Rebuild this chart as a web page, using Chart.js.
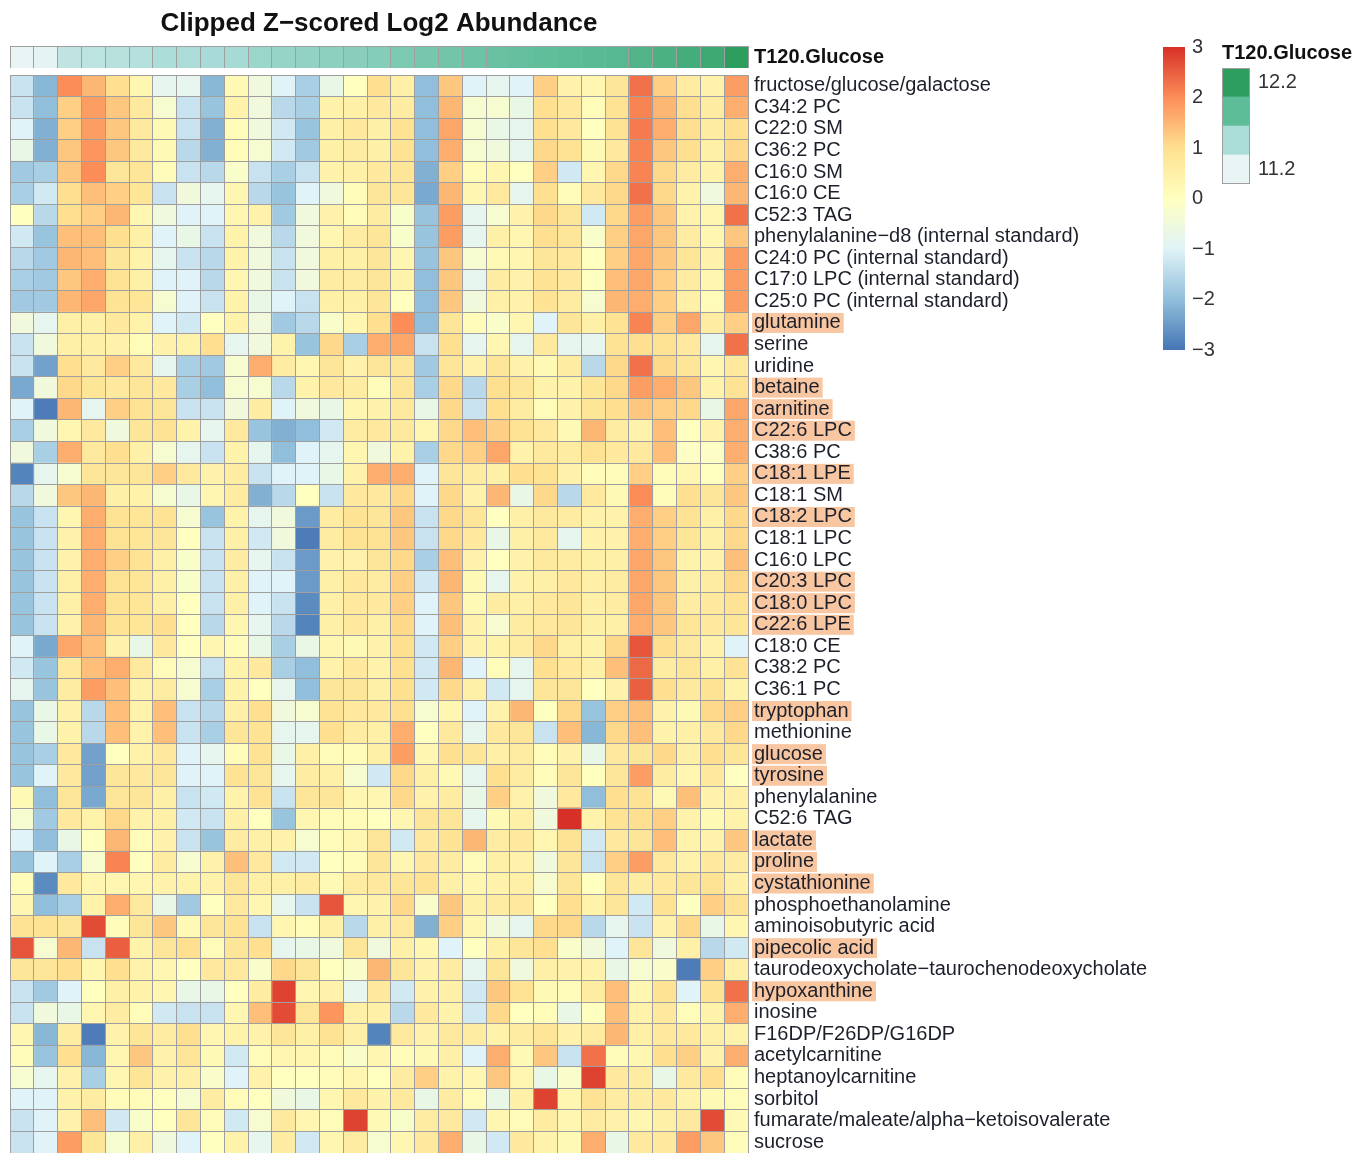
<!DOCTYPE html>
<html>
<head>
<meta charset="utf-8">
<title>Clipped Z-scored Log2 Abundance</title>
<script src="https://cdn.jsdelivr.net/npm/chart.js@4.4.1/dist/chart.umd.min.js"></script>
<style>
  html, body { margin: 0; padding: 0; background: #ffffff; }
  body { width: 1372px; height: 1153px; position: relative; overflow: hidden; }
  canvas { position: absolute; }
</style>
</head>
<body>
<canvas id="heat" style="left:10px;top:0" width="1155" height="1153"></canvas>
<canvas id="anno" style="left:10px;top:0" width="990" height="68"></canvas>
<canvas id="zbar" style="left:1150px;top:0" width="100" height="400"></canvas>
<canvas id="glu" style="left:1205px;top:30px" width="167" height="160"></canvas>
<script>
// ---------------------------------------------------------------------------
// Data
// ---------------------------------------------------------------------------
const chartTitle = 'Clipped Z\u2212scored Log2 Abundance';
const annotationName = 'T120.Glucose';

// T120 glucose per sample (columns, left to right)
const glucoseT120 = [11.20, 11.22, 11.42, 11.44, 11.46, 11.48, 11.52, 11.53, 11.54, 11.55,
                     11.60, 11.62, 11.64, 11.66, 11.68, 11.70, 11.74, 11.76, 11.78, 11.80,
                     11.82, 11.84, 11.86, 11.88, 11.90, 11.92, 11.96, 12.00, 12.04, 12.08, 12.20];

// Glucose legend key (top to bottom) and its labels
const glucoseKeyValues = [12.2, 11.867, 11.533, 11.2];
const glucoseKeyLabels = ['12.2', '', '', '11.2'];

// Z-score legend range
const zMin = -3, zMax = 3;

// Metabolites (rows, top to bottom)
const metabolites = [
  'fructose/glucose/galactose', 'C34:2 PC', 'C22:0 SM', 'C36:2 PC', 'C16:0 SM', 'C16:0 CE',
  'C52:3 TAG', 'phenylalanine\u2212d8 (internal standard)', 'C24:0 PC (internal standard)',
  'C17:0 LPC (internal standard)', 'C25:0 PC (internal standard)', 'glutamine', 'serine',
  'uridine', 'betaine', 'carnitine', 'C22:6 LPC', 'C38:6 PC', 'C18:1 LPE', 'C18:1 SM',
  'C18:2 LPC', 'C18:1 LPC', 'C16:0 LPC', 'C20:3 LPC', 'C18:0 LPC', 'C22:6 LPE', 'C18:0 CE',
  'C38:2 PC', 'C36:1 PC', 'tryptophan', 'methionine', 'glucose', 'tyrosine', 'phenylalanine',
  'C52:6 TAG', 'lactate', 'proline', 'cystathionine', 'phosphoethanolamine',
  'aminoisobutyric acid', 'pipecolic acid', 'taurodeoxycholate\u2212taurochenodeoxycholate',
  'hypoxanthine', 'inosine', 'F16DP/F26DP/G16DP', 'acetylcarnitine', 'heptanoylcarnitine',
  'sorbitol', 'fumarate/maleate/alpha\u2212ketoisovalerate', 'sucrose'
];

// Metabolites marked in the label column
const highlighted = [
  'glutamine', 'betaine', 'carnitine', 'C22:6 LPC', 'C18:1 LPE', 'C18:2 LPC', 'C20:3 LPC',
  'C18:0 LPC', 'C22:6 LPE', 'tryptophan', 'glucose', 'tyrosine', 'lactate', 'proline',
  'cystathionine', 'pipecolic acid', 'hypoxanthine'
];

// Clipped z-scores, one row per metabolite, one value per sample column
const zscores = [
  [-1.3,-2.1,2.0,1.5,1.0,0.3,-0.8,-0.8,-2.1,0.2,-0.5,-1.0,-1.7,-0.7,0.0,1.0,0.5,-2.0,1.3,-1.0,-0.8,-1.0,1.2,0.4,0.3,0.8,2.3,1.2,0.6,0.4,1.8],
  [-1.3,-2.0,1.2,1.8,1.3,0.7,-0.3,-1.3,-1.9,0.4,-0.5,-1.5,-1.7,0.4,0.5,0.7,0.6,-2.0,1.5,-0.3,-0.3,-0.7,1.0,0.7,0.1,0.9,2.1,1.5,1.0,0.6,1.6],
  [-1.0,-2.2,1.2,1.8,1.3,0.7,0.2,-1.3,-2.2,0.1,-0.5,-1.2,-1.9,0.5,0.7,0.5,0.9,-2.0,1.7,-0.3,-0.7,-0.8,1.0,0.7,0.0,0.9,2.2,1.6,1.0,0.6,1.0],
  [-0.7,-2.2,1.3,1.9,1.3,0.7,0.2,-1.5,-2.2,0.1,-0.3,-1.2,-1.8,0.5,0.6,0.5,0.9,-2.0,1.6,-0.3,-0.5,-0.8,1.1,0.9,0.2,0.7,2.1,1.3,1.0,0.5,1.1],
  [-1.8,-1.7,1.3,2.0,0.8,0.8,0.1,-1.3,-1.5,-0.2,-1.3,-1.7,-1.3,0.4,0.5,0.7,0.8,-2.2,1.2,0.1,0.3,0.0,1.2,-1.2,0.3,1.1,2.1,1.1,0.6,0.4,1.6],
  [-1.7,-1.2,1.0,1.4,1.2,0.8,-1.3,-0.5,-0.8,0.3,-1.5,-1.9,-1.0,-0.5,0.1,0.8,0.8,-2.3,1.5,0.3,0.7,-0.8,1.0,0.1,0.7,1.1,2.3,1.1,0.4,-0.5,1.5],
  [0.0,-1.5,1.0,1.2,1.5,0.3,-0.5,-1.0,-1.0,0.3,0.4,-1.8,-0.5,0.4,0.1,0.6,-0.2,-1.9,1.8,-0.8,-0.3,0.4,1.1,0.8,-1.2,1.1,1.8,1.3,0.4,0.3,2.3],
  [-1.2,-1.9,1.4,1.4,1.0,0.5,-1.0,-0.7,-1.3,0.4,-0.5,-1.5,-0.5,0.3,0.6,0.8,-0.2,-1.9,1.8,-0.8,0.5,0.3,1.0,0.8,-0.2,1.2,1.7,1.3,0.6,0.3,1.3],
  [-1.5,-1.8,1.5,1.4,0.8,0.4,-0.8,-1.3,-1.5,0.4,-0.5,-1.3,-0.5,0.5,0.5,0.8,0.3,-1.9,1.3,-0.3,0.2,0.3,0.8,0.7,0.0,1.2,1.7,1.3,0.8,0.4,1.8],
  [-1.7,-1.8,1.3,1.6,0.9,0.5,-1.0,-1.0,-1.5,0.3,-0.5,-1.3,-0.5,0.6,0.6,0.8,0.4,-2.0,1.3,-0.8,0.6,0.4,0.9,0.7,0.0,1.4,1.7,1.2,0.6,0.3,1.8],
  [-1.8,-1.8,1.5,1.7,0.9,0.8,-0.3,-1.0,-1.3,0.4,-0.7,-1.0,-1.3,0.5,0.5,0.8,0.0,-2.0,1.3,-0.5,0.5,0.4,0.9,0.6,-0.3,1.5,1.6,1.2,0.5,0.1,1.8],
  [-0.5,-0.8,0.5,0.5,0.7,0.4,-1.0,-1.2,0.0,0.4,-0.5,-1.8,-1.5,-0.2,0.3,1.0,2.0,-2.0,0.8,0.1,-0.2,0.3,-1.0,0.8,0.5,0.9,2.1,1.2,1.7,0.6,1.2],
  [-1.3,-0.5,0.5,0.5,0.4,0.1,0.4,0.4,1.0,-0.8,-0.5,0.4,-1.9,1.1,-1.7,1.6,1.7,-1.3,1.0,-0.8,0.3,-0.8,0.7,-0.8,-0.8,0.9,1.0,0.9,0.7,-0.8,2.3],
  [-1.3,-2.4,1.0,0.7,1.2,0.7,-0.8,-1.7,-1.8,-0.3,1.6,0.6,0.3,0.8,0.4,0.8,0.8,-1.8,0.8,0.4,0.8,0.4,0.2,0.6,-1.5,1.1,2.3,1.1,0.8,0.3,0.7],
  [-2.3,-0.5,1.1,0.8,0.7,0.8,0.7,-1.7,-2.0,-0.3,-0.3,-1.5,0.4,0.7,0.6,0.1,0.8,-1.7,1.1,-1.5,1.0,0.8,0.4,0.4,0.8,1.1,1.8,1.6,1.3,0.4,0.9],
  [-1.0,-2.9,1.5,-0.8,1.2,0.9,0.8,-1.3,-1.3,-0.5,0.6,-1.0,-0.5,-0.7,0.3,0.4,0.7,-0.7,1.1,-1.3,1.0,0.6,0.1,0.4,0.8,1.0,1.3,1.2,1.1,-0.7,1.7],
  [-1.7,-0.5,0.3,0.7,-0.5,0.8,0.9,0.4,-0.8,0.7,-1.9,-2.2,-2.0,-1.2,0.6,0.7,0.7,0.3,1.1,1.4,1.2,0.9,0.7,0.2,1.5,0.6,0.4,1.4,0.0,0.4,1.6],
  [-0.5,-1.7,1.6,0.7,1.0,0.5,-0.3,-0.8,-1.3,0.4,-0.8,-2.0,-1.0,-0.8,0.3,-0.5,0.4,-1.7,1.1,1.2,1.7,0.4,0.7,0.6,0.9,0.7,0.7,1.4,-0.1,-0.1,1.6],
  [-2.8,-0.8,-0.3,0.8,0.8,0.8,1.2,0.7,0.4,0.6,-1.3,-1.0,-1.0,-0.7,0.4,1.6,1.6,-1.0,0.8,0.6,0.5,1.0,0.9,0.4,0.1,0.1,1.2,0.1,0.3,0.0,1.2],
  [-1.5,-0.5,1.3,1.5,0.5,0.4,-0.3,-0.7,0.3,0.6,-2.2,-1.5,0.0,-1.3,0.7,0.7,1.1,-1.0,1.1,0.4,1.5,-0.7,1.1,-1.5,0.7,0.2,2.0,0.1,1.0,0.8,1.3],
  [-1.9,-1.3,0.3,1.6,0.9,0.8,0.9,-0.3,-1.9,0.4,-0.8,-0.5,-2.5,0.6,0.9,0.8,1.3,-1.3,1.1,0.8,0.0,0.5,0.7,0.6,0.4,0.4,1.6,1.2,0.9,0.5,1.1],
  [-1.9,-1.3,0.4,1.6,0.9,0.8,0.8,0.0,-1.3,0.5,-1.2,-0.5,-2.9,0.6,0.9,0.9,1.3,-1.3,1.1,0.7,-0.7,0.5,0.7,-0.8,0.4,0.4,1.6,1.2,0.8,0.5,1.1],
  [-1.9,-1.3,0.4,1.6,1.2,0.9,0.5,-0.2,-1.3,0.6,-0.8,-1.3,-2.5,0.4,0.4,0.8,1.1,-1.7,1.4,0.4,0.0,0.4,0.7,0.6,0.5,0.5,1.7,1.3,0.4,0.4,1.4],
  [-1.9,-1.3,0.5,1.6,0.9,0.8,0.5,-0.2,-1.3,0.5,-1.0,-1.0,-2.5,0.5,0.7,0.6,1.2,-1.2,1.5,0.2,-0.8,0.4,0.5,0.7,0.5,0.6,1.7,1.3,0.5,0.6,1.1],
  [-1.9,-1.3,0.5,1.6,0.9,0.8,0.5,0.0,-1.3,0.5,-1.0,-1.3,-2.7,0.5,0.7,0.7,1.2,-1.0,1.3,0.2,0.6,0.5,0.7,0.8,0.5,0.6,1.7,1.3,0.6,0.7,0.9],
  [-1.9,-1.3,0.4,1.5,0.9,0.8,1.0,0.0,-1.5,0.3,-0.8,-1.5,-2.8,0.5,0.7,0.5,1.1,-1.0,1.4,0.4,-0.3,0.6,0.7,0.8,0.5,0.5,1.6,1.3,0.8,0.7,0.8],
  [-1.0,-2.3,1.7,1.4,0.4,-0.7,0.7,0.0,0.3,0.1,-0.7,-1.7,-0.7,0.3,0.2,0.4,1.0,-1.2,1.2,0.4,0.4,0.6,1.1,0.5,0.4,1.1,2.6,1.0,0.7,0.4,-1.0],
  [-1.2,-1.9,0.7,1.4,1.6,0.7,0.1,-0.3,-1.3,0.4,0.7,-1.7,-2.0,0.4,0.7,0.4,1.0,-1.2,1.5,-1.0,0.1,-0.8,1.0,0.7,0.5,1.4,2.4,0.6,0.8,0.5,0.9],
  [-0.8,-1.9,0.6,1.8,1.4,0.4,0.6,-0.3,-1.7,0.4,0.0,-0.8,-2.0,0.8,0.8,0.5,1.0,-1.2,1.1,0.5,-1.2,-0.8,0.8,0.8,0.0,0.4,2.5,1.0,0.7,0.9,0.4],
  [-1.9,-0.7,0.4,-1.5,1.4,0.4,1.4,-1.3,-1.5,0.5,1.0,-0.5,-0.3,0.9,0.7,0.7,1.0,-0.3,0.3,-1.0,0.4,1.5,0.0,1.1,-1.9,1.2,1.4,0.4,0.2,1.1,1.2],
  [-1.9,-0.7,0.4,-1.5,1.4,0.4,1.4,-1.3,-1.7,0.8,0.9,-0.8,-0.8,1.0,0.6,0.5,1.6,0.0,0.7,-0.8,0.7,0.8,-1.3,1.4,-2.1,1.1,1.4,0.4,0.5,0.7,1.1],
  [-1.9,-1.7,0.7,-2.4,0.0,0.4,0.7,-1.0,-0.8,0.1,0.9,-0.7,0.5,0.1,0.1,0.5,1.8,0.3,1.0,0.8,0.5,0.6,0.1,0.4,-0.7,0.7,0.8,1.1,0.5,1.0,0.8],
  [-1.9,-1.0,0.7,-2.4,0.8,0.7,0.8,-1.0,-1.0,0.9,0.8,-0.8,0.6,0.5,-0.3,-1.2,1.1,0.5,0.2,-0.8,1.0,0.6,0.1,0.8,0.0,0.8,1.8,0.6,0.3,0.7,0.0],
  [0.2,-2.0,0.8,-2.3,0.8,0.8,0.5,-1.3,-1.2,0.4,0.9,-1.3,0.8,0.8,0.3,0.3,1.1,0.4,0.6,-0.7,1.2,0.4,-0.5,0.7,-2.0,1.0,0.9,0.2,1.4,0.4,0.5],
  [-0.3,-1.8,0.7,0.4,1.1,0.4,0.5,-1.2,-1.3,0.5,0.0,-1.9,0.3,0.1,0.1,0.0,0.3,0.8,0.8,-0.8,0.2,0.5,-0.5,3.0,0.4,0.9,1.0,1.2,0.4,0.2,0.4],
  [-1.0,-2.0,-0.7,0.0,1.5,0.1,0.4,-1.3,-1.9,0.6,0.5,0.4,-0.3,0.1,0.3,0.8,-1.2,0.7,0.9,1.5,0.6,0.7,0.3,0.9,-1.2,0.7,0.8,1.4,0.4,0.4,1.3],
  [-1.9,-1.0,-1.7,-0.3,2.1,0.0,0.6,-0.3,0.4,1.4,0.7,-1.2,-1.2,0.0,0.1,0.8,0.3,0.7,0.6,0.1,0.5,0.4,-0.5,0.8,-1.3,1.2,1.8,0.7,0.4,0.7,0.6],
  [0.1,-2.7,0.7,0.3,0.3,0.3,0.4,0.4,0.4,0.8,0.5,0.5,0.6,0.2,0.6,0.7,0.8,0.9,0.5,0.3,0.4,0.5,-0.3,0.8,0.0,0.8,0.6,0.7,0.8,0.9,0.5],
  [0.3,-2.0,-1.7,0.4,1.6,0.7,-0.7,-1.8,0.0,0.7,0.3,-0.8,-1.3,2.6,0.3,0.4,1.1,-0.2,1.3,0.5,0.6,0.7,0.0,1.0,0.4,0.8,-1.2,0.9,0.0,1.2,0.9],
  [0.9,0.9,0.8,2.7,0.1,0.8,1.3,0.2,0.8,0.9,-1.3,0.3,0.1,0.5,-1.5,0.5,0.7,-2.2,1.2,0.3,-0.5,-0.8,1.1,1.1,-1.5,-0.8,-1.3,0.4,1.1,-0.7,0.3],
  [2.6,-0.3,1.5,-1.3,2.5,0.4,0.8,1.0,0.1,0.8,1.0,-0.8,-0.7,-0.5,0.8,-0.5,0.5,0.3,-1.0,0.0,0.5,0.8,1.0,-0.2,-0.5,-1.0,0.8,-0.5,0.5,-1.5,-1.2],
  [0.8,0.8,1.0,0.3,1.0,0.4,0.3,0.0,0.7,0.7,-0.2,1.1,0.8,0.0,-0.2,1.5,0.8,0.4,0.6,-0.8,0.8,-0.5,0.5,0.4,0.4,-0.7,-0.3,-0.2,-2.9,1.2,0.5],
  [-1.3,-1.8,-1.0,0.0,0.5,0.4,0.3,-0.7,-0.7,0.0,0.6,2.8,0.3,0.4,-0.8,0.7,-1.2,0.4,0.5,-1.2,1.3,0.9,0.2,0.1,0.6,1.4,0.3,0.9,-1.0,0.9,2.3],
  [-1.3,-0.5,-0.7,0.3,0.6,0.1,-1.2,-1.3,-1.3,0.3,1.4,2.7,0.8,1.9,0.5,0.5,-1.5,0.7,0.4,-1.2,1.1,0.0,0.1,-0.7,0.0,1.4,0.4,0.7,0.1,0.4,1.6],
  [0.3,-2.1,0.6,-2.9,0.4,0.8,0.6,1.0,0.3,0.4,0.4,0.8,0.5,0.9,0.5,-2.8,0.7,0.4,0.7,0.6,0.4,0.6,0.8,0.4,0.6,1.5,0.5,0.7,0.7,0.5,0.4],
  [0.1,-1.9,1.0,-2.1,0.3,1.3,0.4,0.8,0.2,-1.2,0.1,0.3,0.3,0.1,-0.2,0.3,0.1,0.2,0.5,-1.0,1.6,0.2,1.3,-1.3,2.3,0.1,0.3,1.0,1.2,0.4,1.6],
  [-0.3,-0.8,0.4,-1.7,0.3,0.8,0.4,0.5,-0.2,-1.0,0.4,0.0,0.0,0.1,0.3,0.0,0.6,1.2,0.4,0.3,1.3,0.3,-0.7,-0.2,2.8,0.7,0.6,-0.7,0.7,1.0,0.1],
  [-1.0,-1.0,0.4,0.6,0.1,0.1,0.0,-0.3,0.6,0.1,0.0,-0.5,-0.7,0.3,0.7,0.4,0.7,-0.7,0.6,0.1,-0.7,0.5,2.8,0.3,0.9,0.6,0.6,0.7,0.4,0.2,0.1],
  [-1.3,-1.0,0.4,1.4,-1.2,-0.2,0.0,0.8,0.1,-1.2,-0.3,0.7,0.3,0.1,2.8,0.2,-0.2,0.6,0.7,-1.2,0.3,0.1,0.6,0.3,0.6,0.4,0.3,0.5,0.7,2.7,0.2],
  [-1.3,-1.0,1.8,0.8,-0.3,0.5,-0.5,-1.0,0.0,0.4,-0.8,0.6,-1.2,0.3,0.6,-0.3,0.3,0.7,1.6,-0.7,-1.2,0.7,0.4,0.2,1.6,-0.7,0.7,0.7,1.8,1.3,0.1]
];

// ---------------------------------------------------------------------------
// Colour scales
// ---------------------------------------------------------------------------
const zPalette = ['#4575B4', '#91BFDB', '#E0F3F8', '#FFFFBF', '#FEE090', '#FC8D59', '#D73027'];
const gluPalette = ['#E9F5F5', '#AADCD8', '#5EBD99', '#2E9E5F'];
const gluMin = 11.2, gluMax = 12.2;

function hexToRgb(h) {
  const n = parseInt(h.slice(1), 16);
  return [(n >> 16) & 255, (n >> 8) & 255, n & 255];
}
function ramp(palette, t) {
  t = Math.max(0, Math.min(1, t));
  const pos = t * (palette.length - 1);
  const i = Math.min(Math.floor(pos), palette.length - 2);
  const f = pos - i;
  const a = hexToRgb(palette[i]), b = hexToRgb(palette[i + 1]);
  const c = a.map((v, k) => Math.round(v + (b[k] - v) * f));
  return `rgb(${c[0]},${c[1]},${c[2]})`;
}
const zColor = v => ramp(zPalette, (v - zMin) / (zMax - zMin));
const gluColor = v => ramp(gluPalette, (v - gluMin) / (gluMax - gluMin));

// ---------------------------------------------------------------------------
// Shared styling
// ---------------------------------------------------------------------------
const FONT = "'Liberation Sans', Arial, Helvetica, sans-serif";
const GRID = '#9f9f9f';
const LABEL_COLOR = '#1d202b';
Chart.defaults.font.family = FONT;
Chart.defaults.animation = false;
Chart.defaults.responsive = false;
Chart.defaults.devicePixelRatio = 1;
Chart.defaults.plugins.legend.display = false;
Chart.defaults.plugins.tooltip.enabled = false;

const nCols = glucoseT120.length;

// One dataset per sample column: every bar spans [c, c + 1] on the x scale,
// coloured by the value it encodes.
function columnDatasets(rows, colorOf) {
  const sets = [];
  for (let c = 0; c < nCols; c++) {
    sets.push({
      data: rows.map(() => [c, c + 1]),
      backgroundColor: rows.map(r => colorOf(r[c])),
      borderWidth: 0,
      grouped: false,
      categoryPercentage: 1,
      barPercentage: 1
    });
  }
  return sets;
}

// Column scale shared by the annotation strip and the heat map
function columnScale() {
  return {
    type: 'linear', min: 0, max: nCols,
    ticks: { display: false, stepSize: 1 },
    grid: { color: GRID, lineWidth: 1, drawTicks: false, z: 1 },
    border: { display: false },
    afterFit(s) { s.height = 0; }
  };
}

// ---------------------------------------------------------------------------
// Annotation strip with the chart title
// ---------------------------------------------------------------------------
new Chart(document.getElementById('anno'), {
  type: 'bar',
  data: {
    labels: [annotationName],
    datasets: columnDatasets([glucoseT120], gluColor)
  },
  options: {
    indexAxis: 'y',
    layout: { padding: { left: 0, top: 0, right: 0, bottom: 0 } },
    plugins: {
      title: {
        display: true, text: chartTitle, fullSize: false, align: 'center',
        color: '#111111',
        font: { family: FONT, size: 26, weight: 'bold', lineHeight: 1.2 },
        padding: { top: 8, bottom: 7 }
      }
    },
    scales: {
      x: columnScale(),
      y: {
        type: 'category', position: 'right', offset: true,
        ticks: { color: '#111111', padding: 6, autoSkip: false,
                 font: { family: FONT, size: 20, weight: 'bold', lineHeight: 1 } },
        grid: { color: GRID, drawTicks: false, offset: true, z: 1 },
        border: { display: true, color: GRID },
        afterFit(s) { s.width = 252; s.paddingTop = 0; s.paddingBottom = 0; }
      }
    }
  }
});

// ---------------------------------------------------------------------------
// Heat map
// ---------------------------------------------------------------------------
new Chart(document.getElementById('heat'), {
  type: 'bar',
  data: {
    labels: metabolites,
    datasets: columnDatasets(zscores, zColor)
  },
  options: {
    indexAxis: 'y',
    layout: { padding: { left: 0, top: 75, right: 0, bottom: 0 } },
    scales: {
      x: columnScale(),
      y: {
        type: 'category', position: 'right', offset: true,
        ticks: {
          color: LABEL_COLOR, padding: 6, autoSkip: false,
          font: { family: FONT, size: 20, lineHeight: 1 },
          showLabelBackdrop: ctx => highlighted.includes(metabolites[ctx.index]),
          backdropColor: ctx => highlighted.includes(metabolites[ctx.index]) ? '#f8c6a0' : 'rgba(0,0,0,0)',
          backdropPadding: { left: 2, right: 3, top: 0, bottom: 0 }
        },
        grid: { color: GRID, drawTicks: false, offset: true, z: 1 },
        border: { display: true, color: GRID },
        afterFit(s) { s.width = 417; s.paddingTop = 0; s.paddingBottom = 0; }
      }
    }
  }
});

// ---------------------------------------------------------------------------
// Z-score colour key
// ---------------------------------------------------------------------------
new Chart(document.getElementById('zbar'), {
  type: 'bar',
  data: {
    labels: ['z'],
    datasets: [{
      data: [[zMin, zMax]],
      borderWidth: 0,
      categoryPercentage: 1,
      barPercentage: 1,
      backgroundColor(ctx) {
        const chart = ctx.chart;
        const y = chart.scales.y;
        if (!chart.chartArea || !y) return zPalette[3];
        const g = chart.ctx.createLinearGradient(0, y.getPixelForValue(zMin), 0, y.getPixelForValue(zMax));
        zPalette.forEach((c, i) => g.addColorStop(i / (zPalette.length - 1), c));
        return g;
      }
    }]
  },
  options: {
    layout: { padding: { left: 13, top: 47, right: 0, bottom: 50 } },
    scales: {
      x: { display: false },
      y: {
        type: 'linear', position: 'right', min: zMin, max: zMax,
        ticks: {
          stepSize: 1, padding: 7, color: '#333333',
          font: { family: FONT, size: 20, lineHeight: 1 },
          callback: v => (v < 0 ? '\u2212' + Math.abs(v) : String(v))
        },
        grid: { display: false, drawTicks: false },
        border: { display: false },
        afterFit(s) { s.width = 65; s.paddingTop = 0; s.paddingBottom = 0; }
      }
    }
  }
});

// ---------------------------------------------------------------------------
// Glucose colour key
// ---------------------------------------------------------------------------
const keyFrame = {
  id: 'keyFrame',
  afterDatasetsDraw(chart) {
    const { ctx, chartArea: a } = chart;
    ctx.save();
    ctx.strokeStyle = GRID;
    ctx.lineWidth = 1;
    ctx.strokeRect(Math.round(a.left) + 0.5, Math.round(a.top) + 0.5,
                   Math.round(a.right - a.left) - 1, Math.round(a.bottom - a.top) - 1);
    ctx.restore();
  }
};

new Chart(document.getElementById('glu'), {
  type: 'bar',
  data: {
    labels: glucoseKeyLabels,
    datasets: [{
      data: glucoseKeyValues.map(() => 1),
      backgroundColor: glucoseKeyValues.map(gluColor),
      borderWidth: 0,
      categoryPercentage: 1,
      barPercentage: 1
    }]
  },
  options: {
    indexAxis: 'y',
    layout: { padding: { left: 17, top: 0, right: 0, bottom: 6 } },
    plugins: {
      title: {
        display: true, text: annotationName, align: 'start',
        color: '#111111',
        font: { family: FONT, size: 20, weight: 'bold', lineHeight: 1.2 },
        padding: { top: 11, bottom: 3 }
      }
    },
    scales: {
      x: { display: false, min: 0, max: 1 },
      y: {
        type: 'category', position: 'right', offset: true,
        ticks: { color: '#333333', padding: 8, autoSkip: false,
                 font: { family: FONT, size: 20, lineHeight: 1 } },
        grid: { display: false, drawTicks: false },
        border: { display: false },
        afterFit(s) { s.width = 122; s.paddingTop = 0; s.paddingBottom = 0; }
      }
    }
  },
  plugins: [keyFrame]
});
</script>
</body>
</html>
